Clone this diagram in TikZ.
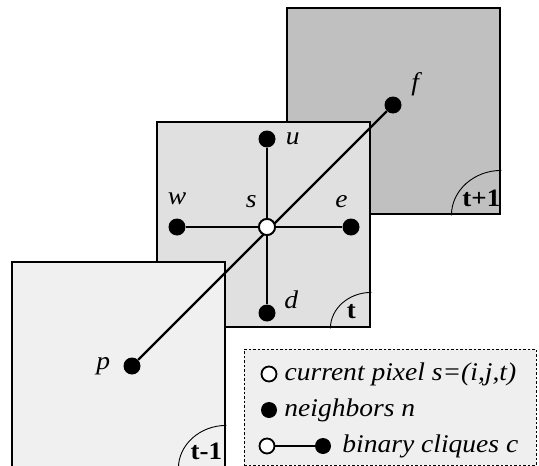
\documentclass[tikz,border=0pt]{standalone}
\usepackage{fontspec}
\setmainfont[FakeStretch=1.08]{Liberation Serif}
\usetikzlibrary{positioning,calc}
\definecolor{cNext}{HTML}{C0C0C0}
\definecolor{cCur} {HTML}{E0E0E0}
\definecolor{cPrev}{HTML}{F0F0F0}
\definecolor{cLeg} {HTML}{EFEFEF}

\begin{document}
\begin{tikzpicture}[x=1pt,y=-1pt,font=\fontsize{25.5}{27}\selectfont,
    frame/.style={draw,line width=2.4pt,minimum width=213pt,minimum height=205pt,inner sep=0pt,anchor=north west},
    nb/.style={circle,fill=black,inner sep=0pt,minimum size=17pt},
    cur/.style={circle,draw,fill=white,line width=1.8pt,inner sep=0pt,minimum size=16pt},
    lbl/.style={font=\fontsize{25.5}{27}\selectfont\itshape,inner sep=0pt},
    tag/.style={font=\fontsize{25}{27}\selectfont\bfseries,inner sep=0pt},
    link/.style={line width=2.2pt}]
  \useasboundingbox (0,0) rectangle (539,466);
  % frames t+1, t, t-1
  \node[frame,fill=cNext,minimum height=206pt] (fnext) at (286,7) {};
  \node[frame,fill=cCur] (fcur) at (156,121) {};
  \node[frame,fill=cPrev] (fprev) at (11,261) {};
  \foreach \f/\rx/\ry/\t in {fnext/50/45/t+1,fcur/41/36/t,fprev/48/43/t-1}
    {\draw[line width=0.9pt] ($(\f.south east)+(-\rx,0)$) arc[start angle=180,end angle=270,x radius=\rx,y radius=\ry];
     \node[tag] (tag\f) at ($(\f.south east)+(-20,-17)$) {\t};}
  % pixels
  \node[cur] (s) at (267,227) {};
  \node[nb] (u) at (267,139) {};
  \node[nb] (d) at (267,313) {};
  \node[nb] (w) at (177,227) {};
  \node[nb] (e) at (351,227) {};
  \node[nb] (f) at (393,105) {};
  \node[nb] (p) at (132,366) {};
  \draw[link] (p) -- (f);
  \draw[link] (u) -- (d);
  \draw[link] (w) -- (e);
  \node[cur] at (s) {};
  \node[lbl,right=10pt of u] (lu) {u};
  \node[lbl,above right=-2pt and 11pt of d] (ld) {d};
  \node[lbl,above=13pt of w] (lw) {w};
  \node[lbl,above left=13pt and -3pt of e] (le) {e};
  \node[lbl,above left=13pt and 4pt of s] (ls) {s};
  \node[lbl,above right=3pt and 12pt of f] (lf) {f};
  \node[lbl,left=13pt of p] (lp) {p};
  % legend
  \node[draw,dash pattern=on 2.5pt off 2pt,line width=0.8pt,fill=cLeg,anchor=north west,
        minimum width=292pt,minimum height=116pt] (legend) at (244,349) {};
  \node[cur,minimum size=15pt] (lgcur) at (269,374) {};
  \node[nb,minimum size=16pt] (lgnb) at (269,410) {};
  \node[cur,minimum size=15pt] (lga) at (267,446) {};
  \node[nb,minimum size=16pt] (lgb) at (323,446) {};
  \draw[link] (lga) -- (lgb);
  \node[lbl,anchor=west,right=7pt of lgcur] (tcur) {current pixel s=(i,j,t)};
  \node[lbl,anchor=west,right=7pt of lgnb] (tnb) {neighbors n};
  \node[lbl,anchor=west,right=11pt of lgb] (tcl) {binary cliques c};
\end{tikzpicture}
\end{document}
